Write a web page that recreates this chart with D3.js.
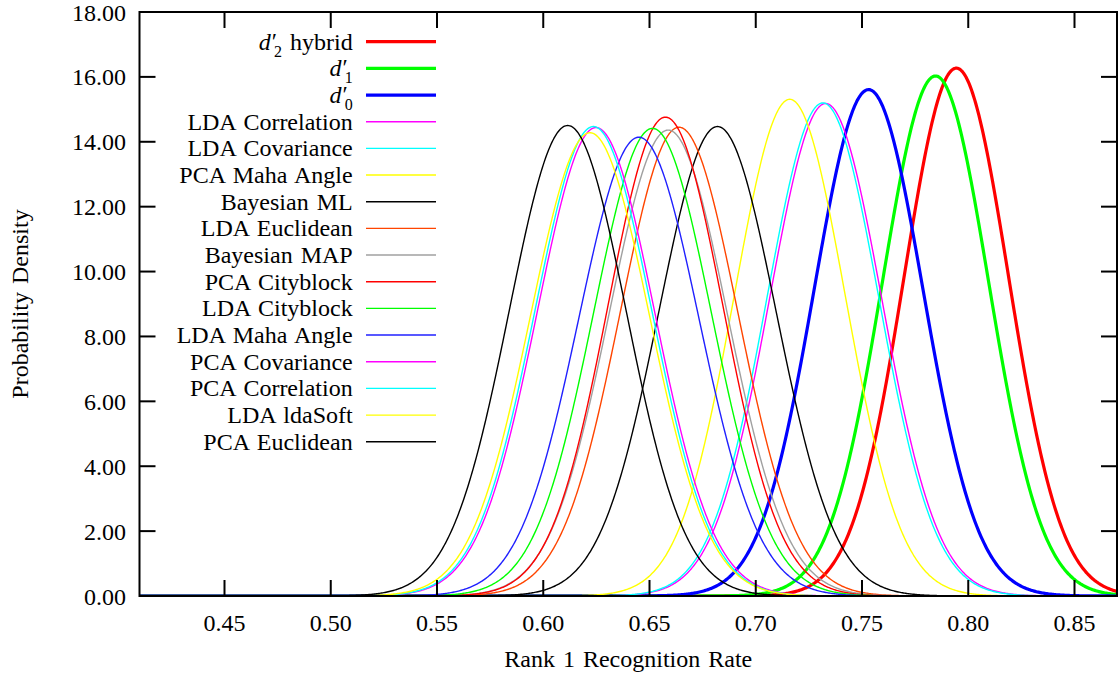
<html>
<meta charset="utf-8">
<script src="https://d3js.org/d3.v7.min.js"></script>
<style>
  body { margin: 0; background: #fff; }
  text { font-family: "Liberation Serif", "Times New Roman", serif; fill: #000; word-spacing: 2px; }
</style>
<body>
<div id="chart"></div>
<script>
// series, in plot / legend order
var names = ["d2 hybrid", "d1", "d0", "LDA Correlation", "LDA Covariance", "PCA Maha Angle",
  "Bayesian ML", "LDA Euclidean", "Bayesian MAP", "PCA Cityblock", "LDA Cityblock",
  "LDA Maha Angle", "PCA Covariance", "PCA Correlation", "LDA ldaSoft", "PCA Euclidean"];
var colors = ["#ff0000", "#00ff00", "#0000ff", "#ff00ff", "#00ffff", "#ffff00",
  "#000000", "#ff4500", "#a0a0a0", "#ff0000", "#00ff00",
  "#2020ff", "#ff00ff", "#00ffff", "#ffff00", "#000000"];
var thick = [true, true, true, false, false, false, false, false, false, false, false,
  false, false, false, false, false];
// mean recognition rate and std deviation of each normal density
var means = [0.7944, 0.7846, 0.7531, 0.7329, 0.7316, 0.7160, 0.6820, 0.6639, 0.6588,
  0.6575, 0.6514, 0.6450, 0.6248, 0.6236, 0.6220, 0.6115];
var sds = [0.02452, 0.02489, 0.02556, 0.02628, 0.02625, 0.02606, 0.02757, 0.02761, 0.02778,
  0.02703, 0.02768, 0.02821, 0.02763, 0.02757, 0.02794, 0.02751];

var xTicks = [0.45, 0.50, 0.55, 0.60, 0.65, 0.70, 0.75, 0.80, 0.85];
var yTicks = [0, 2, 4, 6, 8, 10, 12, 14, 16, 18];

var WIDTH = 1119, HEIGHT = 676;
var LEFT = 139.5, RIGHT = 1117, TOP = 12, BOTTOM = 596;
var FONT = 24;
var TICK = 16;

var svg = d3.select("#chart").append("svg")
  .attr("width", WIDTH).attr("height", HEIGHT);

var x = d3.scaleLinear().domain([0.41, 0.87]).range([LEFT, RIGHT]);
var y = d3.scaleLinear().domain([0, 18]).range([BOTTOM, TOP]);

svg.append("clipPath").attr("id", "clip")
  .append("rect").attr("x", LEFT).attr("y", TOP)
  .attr("width", RIGHT - LEFT).attr("height", BOTTOM - TOP);

// curves
var grid = d3.range(0.41, 0.8701, 0.0005);
var line = d3.line().x(function (d) { return x(d[0]); }).y(function (d) { return y(d[1]); });
var curves = svg.append("g").attr("clip-path", "url(#clip)");
names.forEach(function (n, i) {
  var pts = grid.map(function (v) {
    var z = (v - means[i]) / sds[i];
    return [v, Math.exp(-0.5 * z * z) / (sds[i] * Math.sqrt(2 * Math.PI))];
  });
  curves.append("path")
    .attr("d", line(pts))
    .attr("fill", "none")
    .attr("stroke", colors[i])
    .attr("stroke-width", thick[i] ? 3.2 : 1.4)
    .attr("stroke-linejoin", "round");
});

// border and ticks (mirrored like gnuplot)
var axes = svg.append("g").attr("stroke", "#000").attr("stroke-width", 2);
axes.append("rect").attr("x", LEFT).attr("y", TOP)
  .attr("width", RIGHT - LEFT).attr("height", BOTTOM - TOP).attr("fill", "none");
xTicks.forEach(function (t) {
  axes.append("line").attr("x1", x(t)).attr("x2", x(t)).attr("y1", BOTTOM).attr("y2", BOTTOM - TICK);
  axes.append("line").attr("x1", x(t)).attr("x2", x(t)).attr("y1", TOP).attr("y2", TOP + TICK);
});
yTicks.forEach(function (t) {
  axes.append("line").attr("x1", LEFT).attr("x2", LEFT + TICK).attr("y1", y(t)).attr("y2", y(t));
  axes.append("line").attr("x1", RIGHT).attr("x2", RIGHT - TICK).attr("y1", y(t)).attr("y2", y(t));
});

var fmt = d3.format(".2f");
svg.append("g").selectAll("text").data(xTicks).enter().append("text")
  .attr("x", function (d) { return x(d); })
  .attr("y", 630.5)
  .attr("text-anchor", "middle")
  .style("font-size", FONT + "px")
  .text(fmt);
svg.append("g").selectAll("text").data(yTicks).enter().append("text")
  .attr("x", 126)
  .attr("y", function (d) { return y(d) + 8.5; })
  .attr("text-anchor", "end")
  .style("font-size", FONT + "px")
  .text(fmt);

// axis titles
svg.append("text")
  .attr("x", (LEFT + RIGHT) / 2).attr("y", 667)
  .attr("text-anchor", "middle")
  .style("font-size", FONT + "px")
  .text("Rank 1 Recognition Rate");
svg.append("text")
  .attr("transform", "translate(28," + ((TOP + BOTTOM) / 2) + ") rotate(-90)")
  .attr("text-anchor", "middle")
  .style("font-size", FONT + "px")
  .text("Probability Density");

// legend
var LEG_Y = 41.7, LEG_STEP = 26.67, LEG_TX = 352.7, LEG_X1 = 366, LEG_X2 = 436;
var legend = svg.append("g");
names.forEach(function (n, i) {
  var yy = LEG_Y + i * LEG_STEP;
  legend.append("line")
    .attr("x1", LEG_X1).attr("x2", LEG_X2).attr("y1", yy).attr("y2", yy)
    .attr("stroke", colors[i])
    .attr("stroke-width", thick[i] ? 3.2 : 1.4);
  var t = legend.append("text")
    .attr("x", LEG_TX).attr("y", yy + 8)
    .attr("text-anchor", "end")
    .style("font-size", FONT + "px");
  if (i < 3) {
    var sub = n.charAt(1), rest = n.slice(2);
    t.append("tspan").style("font-style", "italic").text("d");
    t.append("tspan").attr("dx", 1).attr("dy", -1).text("\u2032");
    t.append("tspan").attr("dx", -3).attr("dy", 8).style("font-size", "16px").text(sub);
    if (rest) t.append("tspan").attr("dy", -7).text(rest);
  } else {
    t.text(n);
  }
});
</script>
</body>
</html>
